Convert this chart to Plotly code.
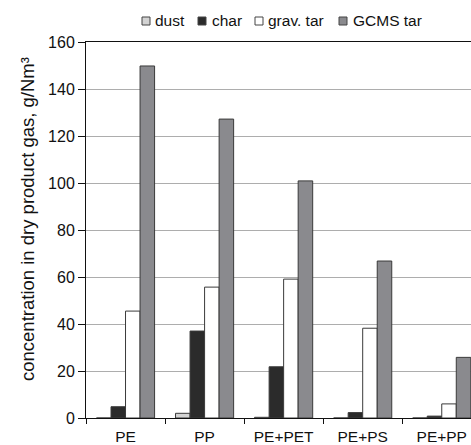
import plotly.graph_objects as go

# Fuel mixtures and measured concentrations (g/Nm³, dry product gas)
fuels = ["PE", "PP", "PE+PET", "PE+PS", "PE+PP"]
dust = [0.0, 2.0, 0.3, 0.0, 0.0]
char = [4.8, 37.0, 21.8, 2.3, 0.8]
grav_tar = [45.5, 55.7, 59.1, 38.2, 6.0]
gcms_tar = [149.8, 127.2, 100.9, 66.8, 25.8]

series = [
    ("dust", dust, "#d3d3d3"),
    ("char", char, "#2b2b2b"),
    ("grav. tar", grav_tar, "#ffffff"),
    ("GCMS tar", gcms_tar, "#8a8a8e"),
]

FONT = "Liberation Sans, Arial, sans-serif"
W, H = 471, 445
ML, MR, MT, MB = 86, 0, 42, 27
PW, PH = W - ML - MR, H - MT - MB

fig = go.Figure()
for name, vals, color in series:
    fig.add_trace(go.Bar(
        x=fuels, y=vals, name=name,
        marker=dict(color=color, line=dict(color="#3a3a3a", width=1)),
        showlegend=False,
    ))

# Compact legend row above the plot (pixel positions converted to paper units)
def px_x(px):
    return (px - ML) / PW

def px_y(py):
    return (H - MB - py) / PH

legend_pos = [(142, 153), (198, 210), (255, 266), (339, 351)]
shapes = []
annotations = []
for (name, _, color), (ix, tx) in zip(series, legend_pos):
    shapes.append(dict(
        type="rect", xref="paper", yref="paper",
        x0=px_x(ix), x1=px_x(ix + 8), y0=px_y(25), y1=px_y(17),
        fillcolor=color, line=dict(color="#444444", width=1),
    ))
    annotations.append(dict(
        text=name, xref="paper", yref="paper",
        x=px_x(tx), y=px_y(21), xanchor="left", yanchor="middle",
        showarrow=False, font=dict(family=FONT, size=15.5, color="#111111"),
    ))

annotations.append(dict(
    text="concentration in dry product gas, g/Nm³",
    xref="paper", yref="paper", x=px_x(27), y=px_y(219),
    xanchor="center", yanchor="middle", textangle=-90, showarrow=False,
    font=dict(family=FONT, size=18.5, color="#111111"),
))

fig.update_layout(
    width=W, height=H,
    margin=dict(l=ML, r=MR, t=MT, b=MB),
    paper_bgcolor="white", plot_bgcolor="white",
    barmode="group", bargap=0.265, bargroupgap=0,
    font=dict(family=FONT, size=16, color="#111111"),
    shapes=shapes, annotations=annotations,
)
fig.update_xaxes(
    range=[-0.5, 4.37], tickson="boundaries",
    showline=True, linecolor="#111111", linewidth=1, mirror=True,
    ticks="outside", ticklen=5, tickcolor="#111111",
    showgrid=False, tickfont=dict(size=15.5), ticklabelstandoff=4,
)
fig.update_yaxes(
    range=[0, 160], dtick=20,
    showline=True, linecolor="#111111", linewidth=1,
    ticks="outside", ticklen=7, tickcolor="#111111",
    showgrid=True, gridcolor="#adadad", gridwidth=1,
    zeroline=False, tickfont=dict(size=16),
)

fig.write_html("out.html")
